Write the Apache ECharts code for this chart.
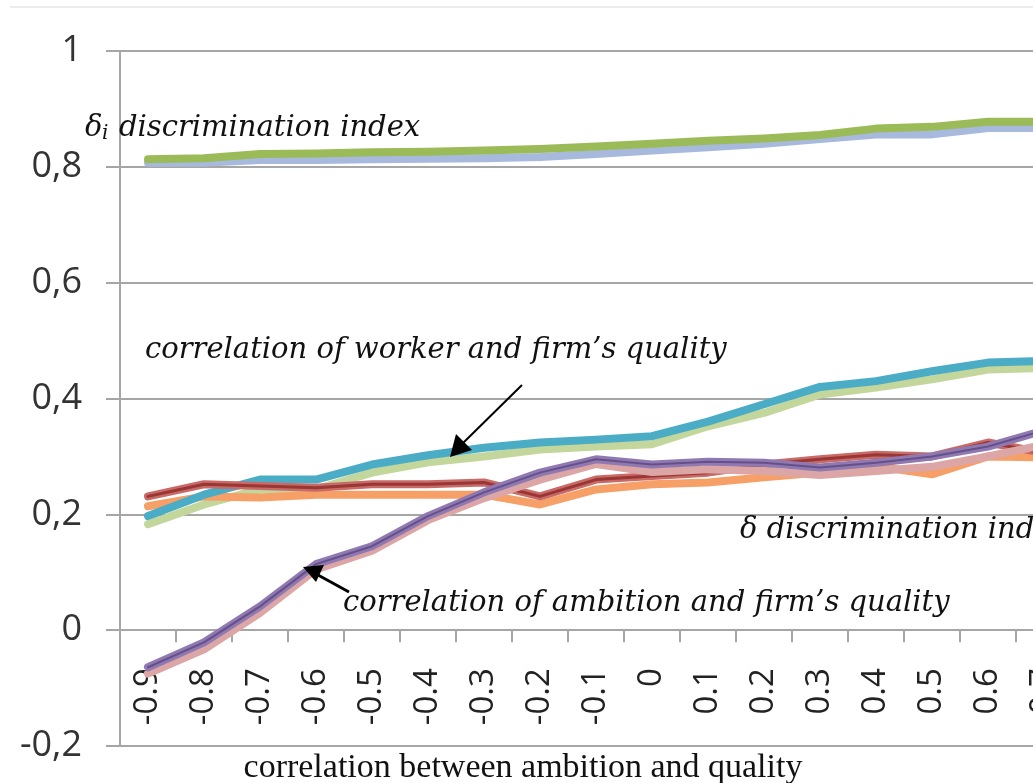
<!DOCTYPE html>
<html>
<head>
<meta charset="utf-8">
<script src="https://cdn.jsdelivr.net/npm/echarts@6/dist/echarts.min.js"></script>
<style>
  html, body { margin: 0; padding: 0; background: #fff; }
  #chart { width: 1033px; height: 783px; }
</style>
</head>
<body>
<div id="chart"></div>
<script>
// x categories (chart is cropped at the right, last visible point 0.7)
const corrLabels = ['-0.9', '-0.8', '-0.7', '-0.6', '-0.5', '-0.4', '-0.3', '-0.2', '-0.1', '0',
  '0.1', '0.2', '0.3', '0.4', '0.5', '0.6', '0.7']

// delta_i discrimination index (two runs)
const deltaIGreen = [0.813, 0.815, 0.822, 0.823, 0.825, 0.826, 0.828, 0.831, 0.835, 0.840,
  0.845, 0.849, 0.855, 0.866, 0.869, 0.878, 0.878]
const deltaIBlue = [0.807, 0.807, 0.812, 0.812, 0.813, 0.814, 0.815, 0.817, 0.822, 0.828,
  0.834, 0.840, 0.848, 0.856, 0.856, 0.867, 0.867]

// correlation of worker and firm's quality
const workerTeal = [0.197, 0.234, 0.260, 0.260, 0.286, 0.302, 0.315, 0.324, 0.329, 0.335,
  0.360, 0.390, 0.420, 0.430, 0.447, 0.462, 0.465]
const workerLightGreen = [0.183, 0.217, 0.243, 0.243, 0.272, 0.290, 0.300, 0.312, 0.317, 0.321,
  0.352, 0.375, 0.407, 0.419, 0.433, 0.450, 0.453]

// delta discrimination index (two runs)
const deltaRed = [0.231, 0.252, 0.249, 0.246, 0.252, 0.252, 0.255, 0.231, 0.260, 0.266,
  0.272, 0.286, 0.295, 0.303, 0.300, 0.324, 0.306]
const deltaOrange = [0.214, 0.231, 0.229, 0.234, 0.234, 0.234, 0.234, 0.217, 0.243, 0.252,
  0.255, 0.264, 0.272, 0.283, 0.269, 0.300, 0.298]

// correlation of ambition and firm's quality
const ambitionPurple = [-0.064, -0.021, 0.041, 0.114, 0.145, 0.197, 0.238, 0.272, 0.295, 0.286,
  0.291, 0.289, 0.281, 0.289, 0.300, 0.317, 0.345]
const ambitionPink = [-0.075, -0.033, 0.030, 0.105, 0.137, 0.190, 0.228, 0.260, 0.287, 0.273,
  0.278, 0.275, 0.268, 0.275, 0.282, 0.300, 0.320]

const yTicks = { min: -0.2, max: 1, step: 0.2 }

var chartDom = document.getElementById('chart')
var myChart = echarts.init(chartDom)

function band(name, data, color, width, z) {
  return {
    name: name,
    type: 'line',
    data: data,
    symbol: 'none',
    smooth: false,
    z: z,
    lineStyle: { color: color, width: width, cap: 'round', join: 'round' }
  }
}

const italic = 'italic 29px "DejaVu Serif"'
const gridHeight = 695
// x axis sits at y = 0, so lift it from the grid bottom
const zeroOffset = -gridHeight * (0 - yTicks.min) / (yTicks.max - yTicks.min)

var option = {
  animation: false,
  backgroundColor: '#ffffff',
  grid: { left: 120, top: 51, width: 952, height: gridHeight, outerBoundsMode: 'none', containLabel: false },
  xAxis: {
    type: 'category',
    data: corrLabels,
    boundaryGap: true,
    position: 'bottom',
    offset: zeroOffset,
    axisLine: { onZero: false, lineStyle: { color: '#a6a6a6', width: 2 } },
    axisTick: { show: true, interval: 0, length: 12, lineStyle: { color: '#a6a6a6', width: 2 } },
    axisLabel: {
      interval: 0,
      rotate: 90,
      margin: 38,
      color: '#222',
      fontFamily: 'Open Sans',
      fontSize: 33
    },
    splitLine: { show: false }
  },
  yAxis: {
    type: 'value',
    min: yTicks.min,
    max: yTicks.max,
    interval: yTicks.step,
    axisLine: { show: true, lineStyle: { color: '#a6a6a6', width: 2 } },
    axisTick: { show: true, length: 14, lineStyle: { color: '#a6a6a6', width: 2 } },
    axisLabel: {
      margin: 38,
      color: '#333',
      fontFamily: 'Open Sans',
      fontSize: 36,
      formatter: v => String(+v.toFixed(1)).replace('.', ',')
    },
    splitLine: { show: true, lineStyle: { color: '#a6a6a6', width: 2 } }
  },
  series: [
    band('delta_i run 2', deltaIBlue, '#a7b9dc', 8, 2),
    band('delta_i run 1', deltaIGreen, '#9bbb59', 8, 3),
    band('worker corr 2', workerLightGreen, '#c3d69b', 8, 2),
    band('worker corr 1', workerTeal, '#4bacc6', 8, 3),
    band('delta run 2', deltaOrange, '#f6a068', 8, 2),
    band('delta run 1', deltaRed, '#c86a67', 8, 3),
    band('delta run 1 core', deltaRed, '#9a3633', 3, 3),
    band('ambition corr 2', ambitionPink, '#dba6a5', 8, 4),
    band('ambition corr 1', ambitionPurple, '#9079b0', 8, 5),
    band('ambition corr 1 core', ambitionPurple, '#65508a', 2, 5)
  ],
  graphic: [
    { type: 'line', shape: { x1: 10, y1: 7, x2: 1033, y2: 7 }, style: { stroke: '#ececec', lineWidth: 2 } },
    { type: 'text', z: 100, style: { x: 85, y: 128, text: 'δ', font: italic, fill: '#111', textVerticalAlign: 'middle' } },
    { type: 'text', z: 100, style: { x: 102, y: 134, text: 'i', font: 'italic 20px "DejaVu Serif"', fill: '#111', textVerticalAlign: 'middle' } },
    { type: 'text', z: 100, style: { x: 119, y: 128, text: 'discrimination index', font: italic, fill: '#111', textVerticalAlign: 'middle' } },
    { type: 'text', z: 100, style: { x: 145, y: 350, text: 'correlation of worker and firm’s quality', font: italic, fill: '#111', textVerticalAlign: 'middle' } },
    { type: 'text', z: 100, style: { x: 740, y: 530, text: 'δ discrimination index', font: italic, fill: '#111', textVerticalAlign: 'middle' } },
    { type: 'text', z: 100, style: { x: 343, y: 603, text: 'correlation of ambition and firm’s quality', font: italic, fill: '#111', textVerticalAlign: 'middle' } },
    { type: 'text', z: 100, style: { x: 523, y: 768, text: 'correlation between ambition and quality', font: '34px "Liberation Serif"', fill: '#111', textAlign: 'center', textVerticalAlign: 'middle' } },
    // arrows
    { type: 'line', z: 100, shape: { x1: 522, y1: 385, x2: 462, y2: 444 }, style: { stroke: '#000', lineWidth: 2 } },
    { type: 'polygon', z: 100, shape: { points: [[450, 457], [456, 434], [472, 450]] }, style: { fill: '#000' } },
    { type: 'line', z: 100, shape: { x1: 349, y1: 592, x2: 318, y2: 575 }, style: { stroke: '#000', lineWidth: 3 } },
    { type: 'polygon', z: 100, shape: { points: [[303, 567], [324, 565], [316, 582]] }, style: { fill: '#000' } }
  ]
}
option && myChart.setOption(option)
</script>
</body>
</html>
